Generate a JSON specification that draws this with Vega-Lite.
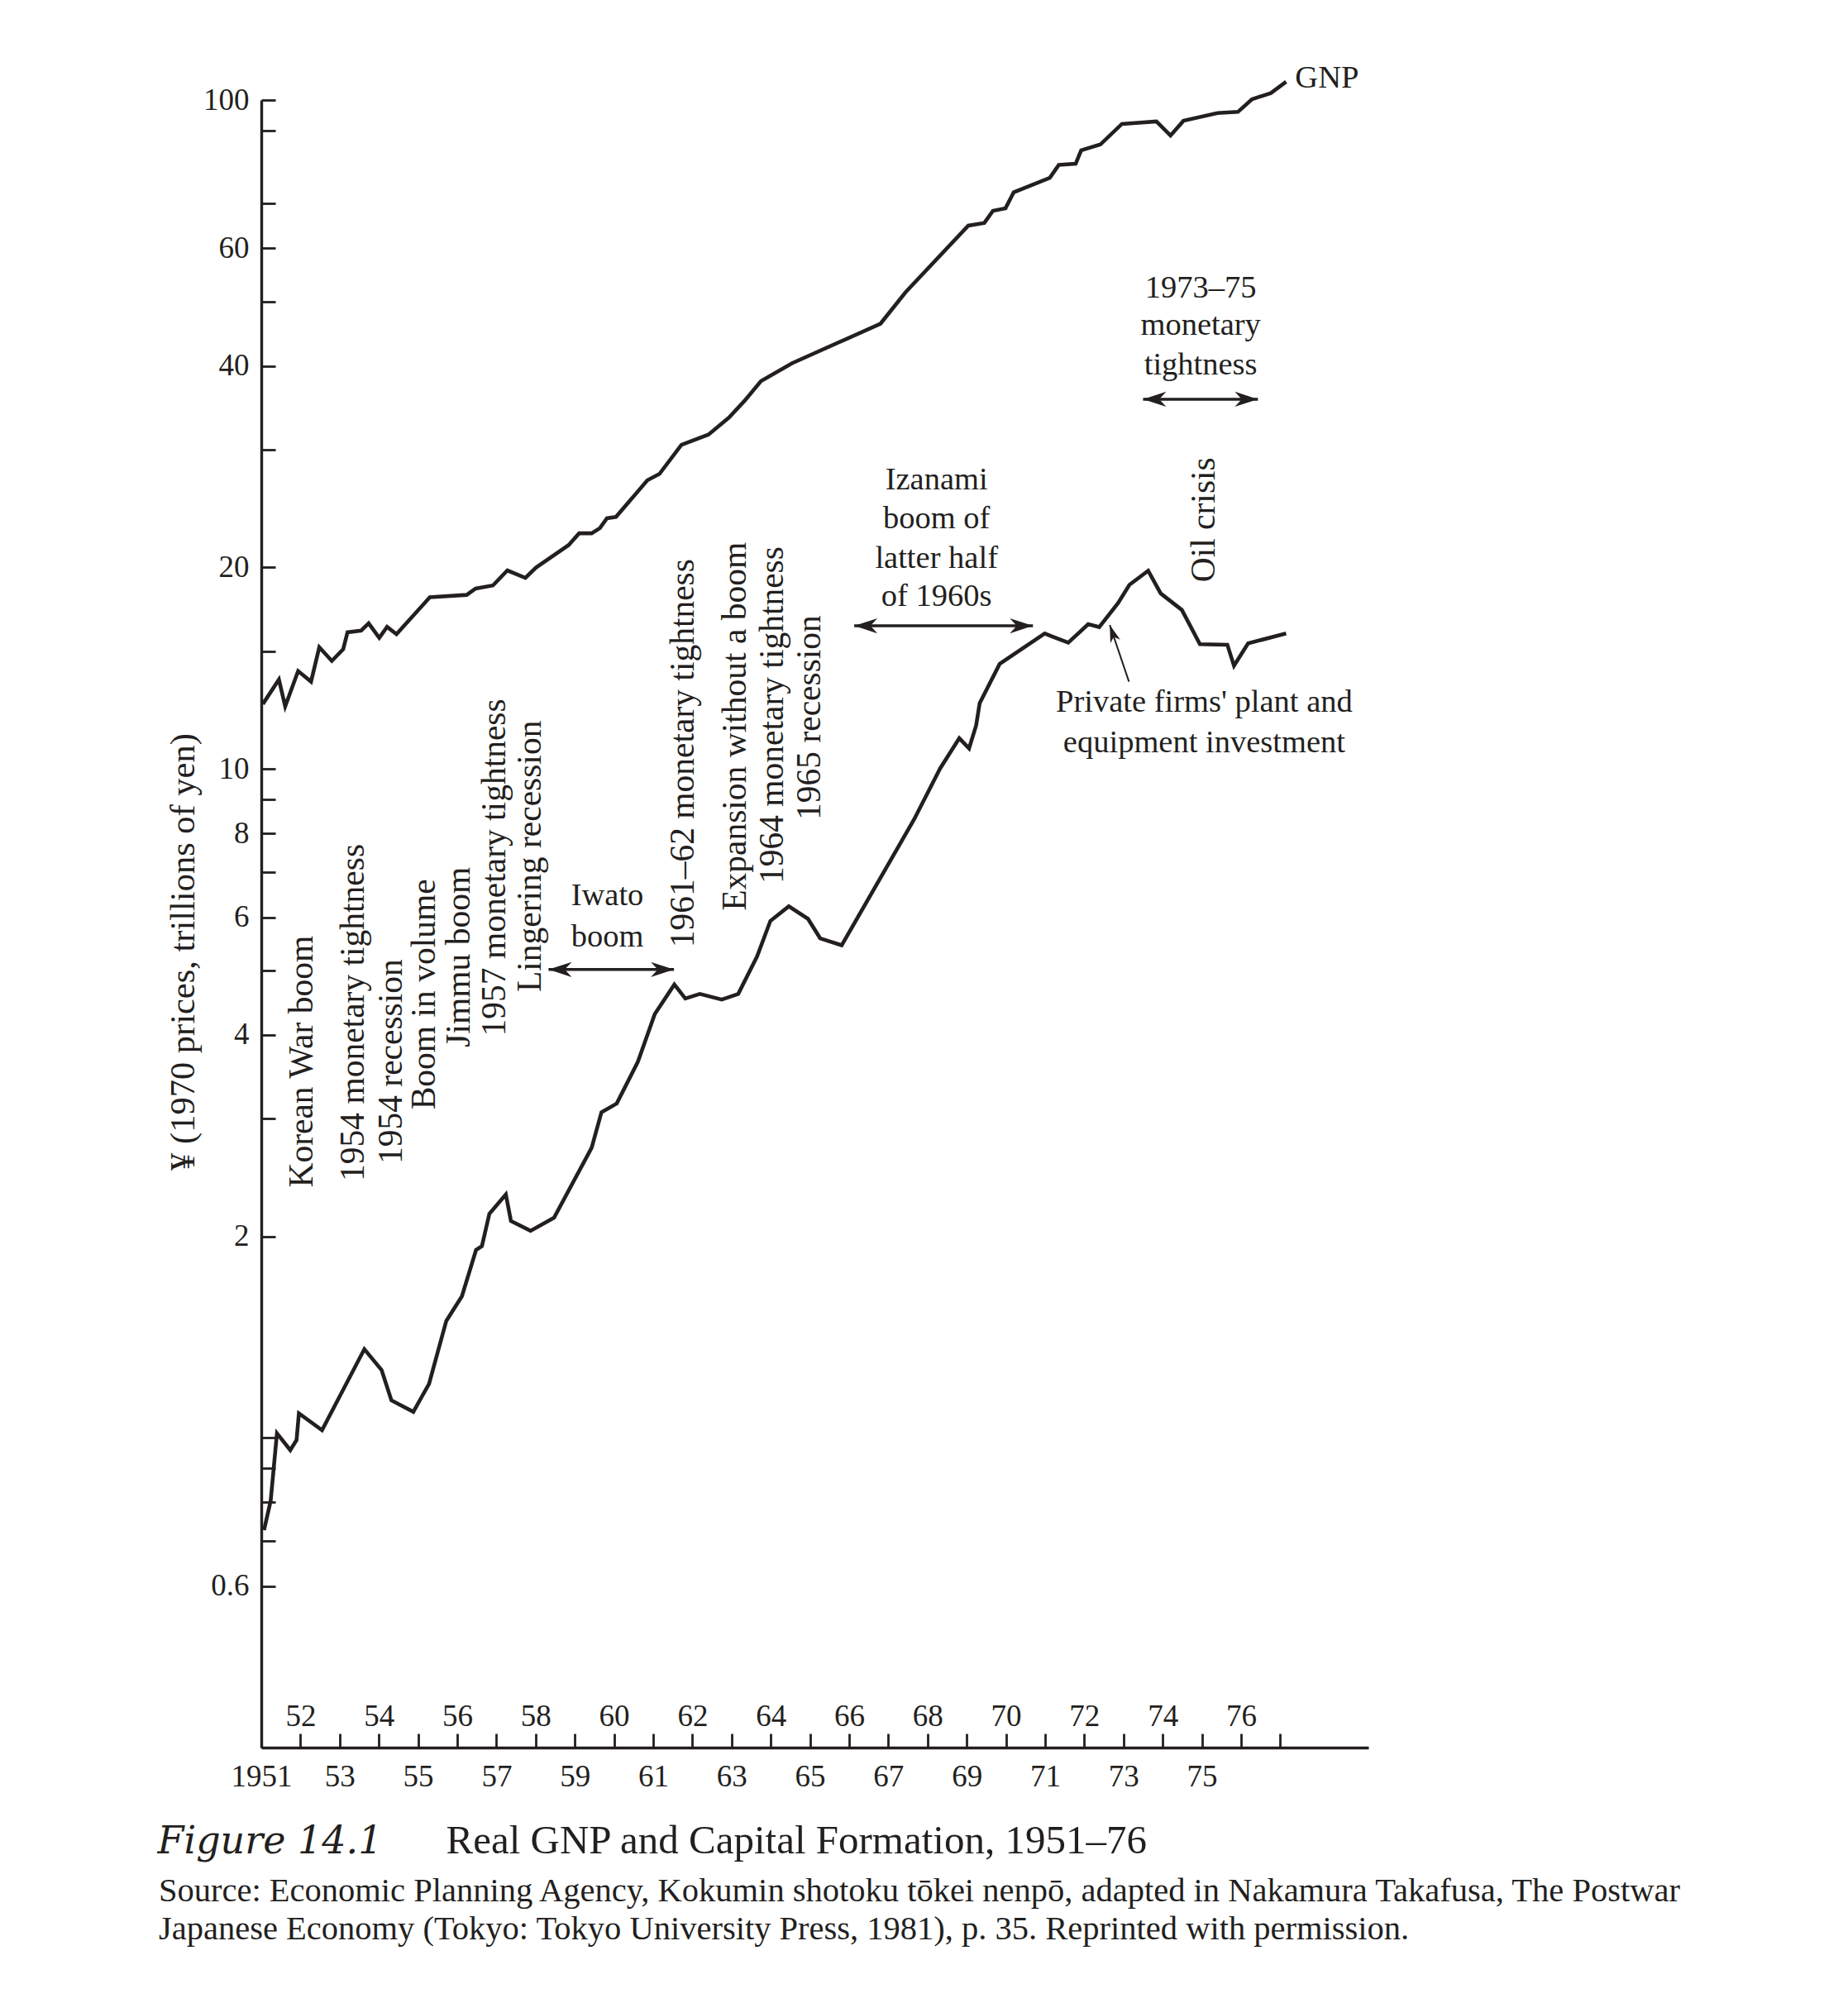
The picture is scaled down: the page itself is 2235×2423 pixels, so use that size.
{
  "$schema": "https://vega.github.io/schema/vega-lite/v6.json",
  "width": 1339,
  "height": 1993,
  "autosize": "none",
  "padding": {"left": 316, "top": 121, "right": 580, "bottom": 309},
  "background": "white",
  "config": {
    "view": {"stroke": null},
    "axis": {"grid": false, "domainColor": "#231f20", "tickColor": "#231f20", "labelColor": "#231f20", "titleColor": "#231f20", "labelFont": "Liberation Serif", "titleFont": "Liberation Serif", "titleFontWeight": "normal"},
    "text": {"font": "Liberation Serif", "color": "#231f20"},
    "title": {"font": "Liberation Serif", "color": "#231f20", "fontWeight": "normal"}
  },
  "title": {
    "text": ["Source: Economic Planning Agency, Kokumin shotoku tōkei nenpō, adapted in Nakamura Takafusa, The Postwar", "Japanese Economy (Tokyo: Tokyo University Press, 1981), p. 35. Reprinted with permission."],
    "orient": "bottom", "anchor": "start", "frame": "group", "dx": -124, "offset": 17, "fontSize": 40.5, "lineHeight": 46, "baseline": "top"
  },
  "datasets": {
    "series": [
      {"series": "GNP", "year": 1951.04, "value": 12.5},
      {"series": "GNP", "year": 1951.45, "value": 13.6},
      {"series": "GNP", "year": 1951.61, "value": 12.4},
      {"series": "GNP", "year": 1951.94, "value": 14.0},
      {"series": "GNP", "year": 1952.27, "value": 13.5},
      {"series": "GNP", "year": 1952.48, "value": 15.2},
      {"series": "GNP", "year": 1952.80, "value": 14.5},
      {"series": "GNP", "year": 1953.09, "value": 15.1},
      {"series": "GNP", "year": 1953.20, "value": 16.0},
      {"series": "GNP", "year": 1953.55, "value": 16.1},
      {"series": "GNP", "year": 1953.74, "value": 16.5},
      {"series": "GNP", "year": 1954.01, "value": 15.7},
      {"series": "GNP", "year": 1954.21, "value": 16.3},
      {"series": "GNP", "year": 1954.45, "value": 15.9},
      {"series": "GNP", "year": 1955.30, "value": 18.05},
      {"series": "GNP", "year": 1956.24, "value": 18.2},
      {"series": "GNP", "year": 1956.47, "value": 18.6},
      {"series": "GNP", "year": 1956.91, "value": 18.8},
      {"series": "GNP", "year": 1957.28, "value": 19.8},
      {"series": "GNP", "year": 1957.74, "value": 19.3},
      {"series": "GNP", "year": 1958.01, "value": 20.0},
      {"series": "GNP", "year": 1958.84, "value": 21.6},
      {"series": "GNP", "year": 1959.11, "value": 22.5},
      {"series": "GNP", "year": 1959.43, "value": 22.5},
      {"series": "GNP", "year": 1959.64, "value": 22.9},
      {"series": "GNP", "year": 1959.82, "value": 23.7},
      {"series": "GNP", "year": 1960.05, "value": 23.8},
      {"series": "GNP", "year": 1960.85, "value": 27.0},
      {"series": "GNP", "year": 1961.16, "value": 27.6},
      {"series": "GNP", "year": 1961.72, "value": 30.5},
      {"series": "GNP", "year": 1962.41, "value": 31.6},
      {"series": "GNP", "year": 1962.93, "value": 33.5},
      {"series": "GNP", "year": 1963.33, "value": 35.5},
      {"series": "GNP", "year": 1963.75, "value": 38.0},
      {"series": "GNP", "year": 1964.54, "value": 40.4},
      {"series": "GNP", "year": 1966.80, "value": 46.3},
      {"series": "GNP", "year": 1967.44, "value": 51.6},
      {"series": "GNP", "year": 1969.04, "value": 64.9},
      {"series": "GNP", "year": 1969.45, "value": 65.5},
      {"series": "GNP", "year": 1969.67, "value": 68.3},
      {"series": "GNP", "year": 1969.99, "value": 68.9},
      {"series": "GNP", "year": 1970.20, "value": 72.8},
      {"series": "GNP", "year": 1971.12, "value": 76.5},
      {"series": "GNP", "year": 1971.35, "value": 80.0},
      {"series": "GNP", "year": 1971.78, "value": 80.3},
      {"series": "GNP", "year": 1971.92, "value": 84.1},
      {"series": "GNP", "year": 1972.41, "value": 85.8},
      {"series": "GNP", "year": 1972.96, "value": 92.1},
      {"series": "GNP", "year": 1973.84, "value": 92.9},
      {"series": "GNP", "year": 1974.20, "value": 88.5},
      {"series": "GNP", "year": 1974.53, "value": 93.1},
      {"series": "GNP", "year": 1975.40, "value": 95.6},
      {"series": "GNP", "year": 1975.92, "value": 96.0},
      {"series": "GNP", "year": 1976.28, "value": 100.3},
      {"series": "GNP", "year": 1976.76, "value": 102.4},
      {"series": "GNP", "year": 1977.15, "value": 106.5},
      {"series": "Investment", "year": 1951.07, "value": 0.727},
      {"series": "Investment", "year": 1951.24, "value": 0.805},
      {"series": "Investment", "year": 1951.40, "value": 1.015},
      {"series": "Investment", "year": 1951.74, "value": 0.958},
      {"series": "Investment", "year": 1951.90, "value": 0.992},
      {"series": "Investment", "year": 1951.96, "value": 1.087},
      {"series": "Investment", "year": 1952.55, "value": 1.026},
      {"series": "Investment", "year": 1953.63, "value": 1.356},
      {"series": "Investment", "year": 1954.07, "value": 1.262},
      {"series": "Investment", "year": 1954.32, "value": 1.137},
      {"series": "Investment", "year": 1954.88, "value": 1.093},
      {"series": "Investment", "year": 1955.28, "value": 1.203},
      {"series": "Investment", "year": 1955.72, "value": 1.494},
      {"series": "Investment", "year": 1956.12, "value": 1.627},
      {"series": "Investment", "year": 1956.48, "value": 1.908},
      {"series": "Investment", "year": 1956.63, "value": 1.934},
      {"series": "Investment", "year": 1956.82, "value": 2.161},
      {"series": "Investment", "year": 1957.24, "value": 2.31},
      {"series": "Investment", "year": 1957.37, "value": 2.108},
      {"series": "Investment", "year": 1957.87, "value": 2.038},
      {"series": "Investment", "year": 1958.47, "value": 2.132},
      {"series": "Investment", "year": 1959.43, "value": 2.713},
      {"series": "Investment", "year": 1959.68, "value": 3.066},
      {"series": "Investment", "year": 1960.07, "value": 3.159},
      {"series": "Investment", "year": 1960.61, "value": 3.648},
      {"series": "Investment", "year": 1961.04, "value": 4.297},
      {"series": "Investment", "year": 1961.54, "value": 4.759},
      {"series": "Investment", "year": 1961.82, "value": 4.535},
      {"series": "Investment", "year": 1962.19, "value": 4.607},
      {"series": "Investment", "year": 1962.75, "value": 4.519},
      {"series": "Investment", "year": 1963.17, "value": 4.607},
      {"series": "Investment", "year": 1963.65, "value": 5.242},
      {"series": "Investment", "year": 1963.99, "value": 5.923},
      {"series": "Investment", "year": 1964.46, "value": 6.228},
      {"series": "Investment", "year": 1964.95, "value": 5.966},
      {"series": "Investment", "year": 1965.26, "value": 5.579},
      {"series": "Investment", "year": 1965.81, "value": 5.447},
      {"series": "Investment", "year": 1967.66, "value": 8.408},
      {"series": "Investment", "year": 1968.32, "value": 10.01},
      {"series": "Investment", "year": 1968.81, "value": 11.11},
      {"series": "Investment", "year": 1969.06, "value": 10.73},
      {"series": "Investment", "year": 1969.24, "value": 11.61},
      {"series": "Investment", "year": 1969.33, "value": 12.53},
      {"series": "Investment", "year": 1969.84, "value": 14.35},
      {"series": "Investment", "year": 1970.99, "value": 15.93},
      {"series": "Investment", "year": 1971.59, "value": 15.44},
      {"series": "Investment", "year": 1972.10, "value": 16.45},
      {"series": "Investment", "year": 1972.38, "value": 16.29},
      {"series": "Investment", "year": 1972.86, "value": 17.69},
      {"series": "Investment", "year": 1973.15, "value": 18.84},
      {"series": "Investment", "year": 1973.63, "value": 19.78},
      {"series": "Investment", "year": 1973.95, "value": 18.29},
      {"series": "Investment", "year": 1974.49, "value": 17.28},
      {"series": "Investment", "year": 1974.95, "value": 15.36},
      {"series": "Investment", "year": 1975.65, "value": 15.33},
      {"series": "Investment", "year": 1975.82, "value": 14.26},
      {"series": "Investment", "year": 1976.18, "value": 15.4},
      {"series": "Investment", "year": 1977.15, "value": 15.94}
    ],
    "vlabels": [
      {"label": "Korean War boom", "year": 1952.06, "value": 3.65},
      {"label": "1954 monetary tightness", "year": 1953.37, "value": 4.32},
      {"label": "1954 recession", "year": 1954.34, "value": 3.65},
      {"label": "Boom in volume", "year": 1955.18, "value": 4.6},
      {"label": "Jimmu boom", "year": 1956.07, "value": 5.23},
      {"label": "1957 monetary tightness", "year": 1956.98, "value": 7.12},
      {"label": "Lingering recession", "year": 1957.87, "value": 7.4},
      {"label": "1961–62 monetary tightness", "year": 1961.78, "value": 10.55},
      {"label": "Expansion without a boom", "year": 1963.12, "value": 11.57},
      {"label": "1964 monetary tightness", "year": 1964.07, "value": 12.03},
      {"label": "1965 recession", "year": 1965.0, "value": 11.93},
      {"label": "Oil crisis", "year": 1975.08, "value": 23.57}
    ],
    "hlabels": [
      {"label": "Iwato", "year": 1959.83, "value": 6.25},
      {"label": "boom", "year": 1959.83, "value": 5.43},
      {"label": "Izanami", "year": 1968.23, "value": 26.2},
      {"label": "boom of", "year": 1968.23, "value": 22.9},
      {"label": "latter half", "year": 1968.23, "value": 19.95},
      {"label": "of 1960s", "year": 1968.23, "value": 17.5},
      {"label": "1973–75", "year": 1974.97, "value": 50.7},
      {"label": "monetary", "year": 1974.97, "value": 44.5},
      {"label": "tightness", "year": 1974.97, "value": 38.9},
      {"label": "Private firms' plant and", "year": 1975.06, "value": 12.16},
      {"label": "equipment investment", "year": 1975.06, "value": 10.58}
    ],
    "serieslabel": [
      {"label": "GNP", "year": 1977.38, "value": 104.5}
    ],
    "spans": [
      {"name": "Iwato boom", "x1": 1958.33, "x2": 1961.53, "value": 5.01},
      {"name": "Izanami boom", "x1": 1966.13, "x2": 1970.69, "value": 16.36},
      {"name": "1973–75 monetary tightness", "x1": 1973.50, "x2": 1976.43, "value": 35.7}
    ],
    "pointer": [
      {"name": "Private firms' plant and equipment investment", "x1": 1973.14, "v1": 13.5, "x2": 1972.65, "v2": 16.41}
    ]
  },
  "layer": [
    {
      "data": {"name": "series"},
      "mark": {"type": "line", "color": "#231f20", "strokeWidth": 4.6, "strokeJoin": "miter"},
      "encoding": {
        "x": {"field": "year", "type": "quantitative", "scale": {"domain": [1951, 1979.25], "nice": false, "zero": false},
          "axis": {"orient": "bottom", "values": [1951,1952,1953,1954,1955,1956,1957,1958,1959,1960,1961,1962,1963,1964,1965,1966,1967,1968,1969,1970,1971,1972,1973,1974,1975,1976,1977],
            "labelExpr": "datum.value == 1951 ? '1951' : ((datum.value % 2 == 1 && datum.value < 1976) ? substring(toString(datum.value), 2, 4) : '')",
            "tickSize": -17, "tickWidth": 2.8, "domainWidth": 3.4, "labelPadding": 63, "labelBaseline": "alphabetic", "labelFontSize": 37,
            "labelFlush": false, "labelOverlap": false, "labelBound": false,
            "title": "Figure 14.1", "titleFont": "DejaVu Serif", "titleFontStyle": "italic", "titleFontSize": 46,
            "titleX": -126, "titleY": 127, "titleAlign": "left", "titleBaseline": "alphabetic"}},
        "y": {"field": "value", "type": "quantitative", "scale": {"type": "log", "domain": [0.344, 100], "nice": false},
          "axis": {"orient": "left", "values": [100,90,70,60,50,40,30,20,15,10,9,8,7,6,5,4,3,2,1,0.9,0.8,0.7,0.6],
            "labelExpr": "indexof([100,60,40,20,10,8,6,4,2,0.6], datum.value) >= 0 ? toString(datum.value) : ''",
            "tickSize": -17, "tickWidth": 2.8, "domainWidth": 3.4, "labelPadding": 32, "labelFontSize": 37, "labelBaseline": "middle",
            "labelFlush": false, "labelOverlap": false, "labelBound": false,
            "title": "¥ (1970 prices, trillions of yen)", "titleFontSize": 42.5, "titleX": -95, "titleY": 1030,
            "titleAlign": "center", "titleBaseline": "middle", "titleAngle": 270}},
        "detail": {"field": "series"}
      }
    },
    {
      "data": {"name": "vlabels"},
      "mark": {"type": "text", "angle": 270, "align": "center", "baseline": "middle", "fontSize": 41.5},
      "encoding": {
        "x": {"field": "year", "type": "quantitative", "scale": {"domain": [1951, 1979.25], "nice": false, "zero": false},
          "axis": {"orient": "bottom", "values": [1952,1954,1956,1958,1960,1962,1964,1966,1968,1970,1972,1974,1976],
            "labelExpr": "substring(toString(datum.value), 2, 4)", "ticks": false, "domain": false,
            "labelPadding": -27, "labelBaseline": "alphabetic", "labelFontSize": 37,
            "labelFlush": false, "labelOverlap": false, "labelBound": false,
            "title": "Real GNP and Capital Formation, 1951–76", "titleFontSize": 49,
            "titleX": 223, "titleY": 127, "titleAlign": "left", "titleBaseline": "alphabetic"}},
        "y": {"field": "value", "type": "quantitative", "scale": {"type": "log", "domain": [0.344, 100], "nice": false}, "axis": null},
        "text": {"field": "label"}
      }
    },
    {
      "data": {"name": "hlabels"},
      "mark": {"type": "text", "align": "center", "baseline": "alphabetic", "fontSize": 38.5},
      "encoding": {
        "x": {"field": "year", "type": "quantitative", "axis": null},
        "y": {"field": "value", "type": "quantitative", "axis": null},
        "text": {"field": "label"}
      }
    },
    {
      "data": {"name": "serieslabel"},
      "mark": {"type": "text", "align": "left", "baseline": "alphabetic", "fontSize": 38.5},
      "encoding": {
        "x": {"field": "year", "type": "quantitative", "axis": null},
        "y": {"field": "value", "type": "quantitative", "axis": null},
        "text": {"field": "label"}
      }
    },
    {
      "data": {"name": "spans"},
      "mark": {"type": "rule", "color": "#231f20", "strokeWidth": 3.5},
      "encoding": {
        "x": {"field": "x1", "type": "quantitative", "axis": null},
        "x2": {"field": "x2"},
        "y": {"field": "value", "type": "quantitative", "axis": null}
      }
    },
    {
      "data": {"name": "spans"},
      "mark": {"type": "point", "shape": "M0,0L0.65,2L0,1.4L-0.65,2Z", "angle": 270, "size": 784, "filled": true, "color": "#231f20", "opacity": 1, "strokeWidth": 0},
      "encoding": {
        "x": {"field": "x1", "type": "quantitative", "axis": null},
        "y": {"field": "value", "type": "quantitative", "axis": null}
      }
    },
    {
      "data": {"name": "spans"},
      "mark": {"type": "point", "shape": "M0,0L0.65,2L0,1.4L-0.65,2Z", "angle": 90, "size": 784, "filled": true, "color": "#231f20", "opacity": 1, "strokeWidth": 0},
      "encoding": {
        "x": {"field": "x2", "type": "quantitative", "axis": null},
        "y": {"field": "value", "type": "quantitative", "axis": null}
      }
    },
    {
      "data": {"name": "pointer"},
      "mark": {"type": "rule", "color": "#231f20", "strokeWidth": 2},
      "encoding": {
        "x": {"field": "x1", "type": "quantitative", "axis": null},
        "x2": {"field": "x2"},
        "y": {"field": "v1", "type": "quantitative", "axis": null},
        "y2": {"field": "v2"}
      }
    },
    {
      "data": {"name": "pointer"},
      "mark": {"type": "point", "shape": "M0,0L0.6,2L0,1.45L-0.6,2Z", "angle": -18.7, "size": 441, "filled": true, "color": "#231f20", "opacity": 1, "strokeWidth": 0},
      "encoding": {
        "x": {"field": "x2", "type": "quantitative", "axis": null},
        "y": {"field": "v2", "type": "quantitative", "axis": null}
      }
    }
  ],
  "resolve": {"axis": {"x": "independent", "y": "independent"}}
}
